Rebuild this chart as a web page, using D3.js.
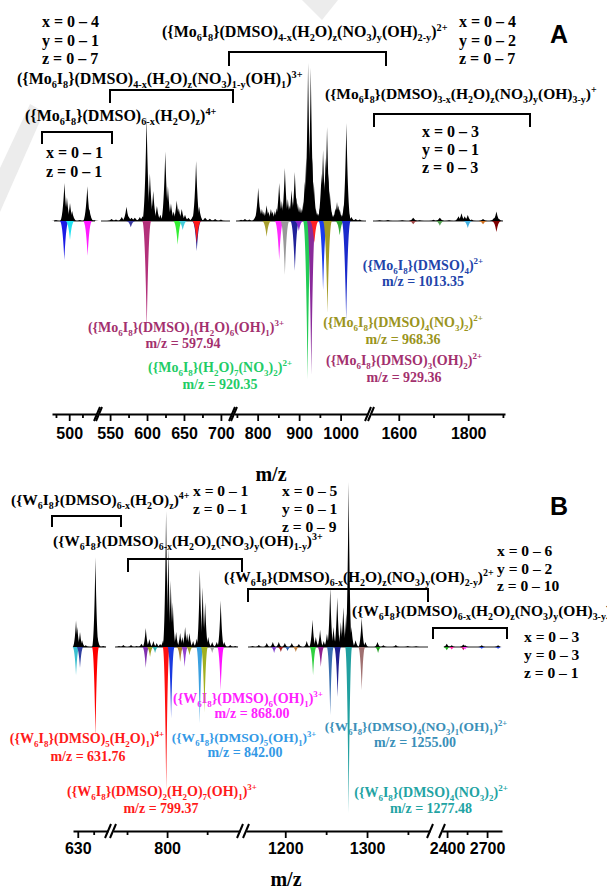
<!DOCTYPE html>
<html>
<head>
<meta charset="utf-8">
<script src="https://cdn.jsdelivr.net/npm/d3@7"></script>
<style>
  body { margin: 0; background: #fff; }
  svg { display: block; }
</style>
</head>
<body>
<div class="chartContainer"></div>
<script>
// ---------- panel A data (Mo6I8) ----------
const aSegments = [[487, 521], [535, 715], [743, 1066], [1520, 1906]];
const aMajorTicks = [500, 550, 600, 650, 700, 800, 900, 1000, 1600, 1800];
const aMinorTicks = [490, 510, 575, 625, 675, 750, 850, 950, 1700, 1900];
// measured spectrum, [m/z, relative intensity]
const aMeasured = [
  [490, 0.6], [496.4, 24], [498.3, 15], [500.6, 11.4], [502.2, 6.3], [508, 0.6], [513.7, 22], [515.2, 7.6], [519, 0.5],
  [552, 1.3], [558, 1], [565.8, 2.5], [572.2, 9], [575, 3], [579, 2], [583.5, 2], [590.3, 2.5], [594, 3],
  [599.4, 66], [603.9, 30], [608.4, 19], [613.4, 9.5], [618, 4], [624.7, 44], [628.3, 22], [632.4, 11], [636, 6],
  [640.2, 13], [643, 8], [647, 7.6], [651.4, 4], [656, 2], [662, 3], [666.4, 38], [670.5, 9], [678.6, 2],
  [685, 1.5], [692.2, 1.3], [700, 1],
  [760, 0.8], [769.4, 1.3], [780, 1], [795, 3], [801.4, 21], [805, 9], [810.3, 7.6], [815, 6], [821.6, 10],
  [826, 6], [832, 7.6], [836, 6], [841.6, 6.3], [846, 8], [851.9, 24], [858.4, 12.7], [865.6, 33.5], [872.8, 14],
  [877, 10], [881.7, 19.6], [885, 12], [889.6, 31], [893, 15], [896.9, 11.4], [902, 9], [906.5, 7.6], [910, 12],
  [913.7, 25], [917, 40], [921.6, 100], [925, 50], [928.1, 97], [931.5, 40], [935.3, 25], [940, 8], [945, 5],
  [950, 8], [954, 30], [957.7, 45], [961, 25], [964, 40], [967.3, 59.5], [970.5, 30], [973.8, 19], [978, 6],
  [984, 4], [987.5, 8], [991.3, 12], [994.5, 10], [997.8, 7.6], [1003, 4], [1008, 10], [1013.9, 62], [1018, 8],
  [1026, 2.5], [1036.3, 1.3], [1046, 1],
  [1545, 0.4], [1568.9, 0.6], [1610, 0.5], [1641.6, 2], [1660, 0.5], [1700, 0.8], [1718.3, 2], [1745, 0.5],
  [1772, 3], [1780.7, 4.9], [1790, 3], [1798.8, 3.8], [1810, 1], [1842.7, 1.2], [1875, 2], [1881.3, 6], [1888, 1.5]
];
// simulated isotope patterns (drawn downward)
const aSimMz = [496.3, 500.6, 513.9, 578, 599.6, 641.5, 648.3, 667.3, 667.3, 821.6, 851.9, 865.6, 889.6, 899.3,
  920.35, 929.36, 936.5, 957.7, 968.36, 997.8, 1013.35, 1641.6, 1718.3, 1798.8, 1842.7, 1881.3];
const aSimInt = [-24.7, -12, -22, -4, -69, -15, -5.7, -19, -14, -10, -24.7, -34, -31.6, -6.3,
  -100, -97.5, -14, -43.7, -58, -9, -62.7, -2, -3, -4.5, -2, -7];

// ---------- panel B data (W6I8) ----------
const bSegments = [[627, 649], [732.5, 891], [1152, 1377], [2362, 2812]];
const bMajorTicks = [630, 800, 1200, 1300, 2400, 2700];
const bMinorTicks = [640, 750, 850, 1250, 1350, 2550];
const bMeasured = [
  [628.9, 16], [629.7, 12], [631.4, 9], [632.7, 4], [635, 1], [641.1, 54], [642.4, 6], [646, 0.6],
  [740, 0.6], [745.4, 1.2], [755, 1.2], [762, 0.6], [768, 2], [773.4, 11.5], [777.9, 4.8], [782.9, 3.6],
  [787.1, 2.4], [791.3, 1.8], [795, 4], [798.75, 82], [801.6, 60], [804.6, 40], [807.1, 27], [811.3, 9],
  [816.3, 8.5], [819, 6], [822.5, 12], [825, 8], [827.9, 8.5], [832.5, 3.6], [837, 5], [840.9, 46.7],
  [844.4, 36], [847.5, 27], [851.3, 6], [856.3, 3], [862, 3], [866.9, 28], [871.3, 3], [878.8, 1.2], [885, 0.6],
  [1160, 0.6], [1167.7, 1.2], [1177.4, 2.4], [1184.8, 3], [1192.1, 3], [1199.5, 2.4], [1208, 2.4], [1216.6, 1.8],
  [1226.3, 3.6], [1233.3, 16.4], [1237.4, 6], [1242.6, 10.3], [1247.1, 3.6], [1251, 8], [1255, 36], [1259, 12],
  [1263.6, 30], [1268, 15], [1271, 24], [1274.5, 20], [1277.48, 99.4], [1281, 12], [1286, 4], [1293.5, 17.6],
  [1298, 3], [1312.8, 3], [1320, 1], [1335.2, 1.2], [1349.8, 0.6], [1360, 0.5],
  [2397.8, 2], [2435, 1], [2522, 1.5], [2535, 1], [2660, 1], [2782.5, 1]
];
const bSimMz = [628.9, 631.4, 641.1, 773.4, 778.75, 785, 798.9, 805, 816.3, 821.9, 827.9, 840.8, 846.6, 856.3,
  866.9, 1186.4, 1194.6, 1202.8, 1212.9, 1234, 1243.5, 1255, 1264, 1277.48, 1293.5, 1313.5,
  2397.8, 2435, 2522, 2535, 2660, 2782.5];
const bSimInt = [-17, -12.7, -54.5, -12.7, -6, -3.6, -86.7, -43, -9, -12, -5, -46, -39.4, -3.6,
  -26, -3.6, -3, -2.4, -3, -17, -12, -41, -30, -100, -26, -3.6,
  -2, -1.5, -2, -1.5, -1, -1];

// ---------- styles ----------
const aSimColors = ["#1a1ae6", "#22e0f0", "#ff1aff", "#3a3aa0", "#b3307a", "#33ee33", "#44ccdd", "#1a1a90", "#ff1a1a",
  "#a8a030", "#ff2aff", "#999999", "#22229a", "#8a2ad0", "#22cc55", "#8a2a9a", "#ff2222", "#1a3aee", "#a49a22",
  "#33aa33", "#1a2acc", "#a04848", "#55a055", "#44b0e0", "#d07020", "#800000"];
const bSimColors = ["#3cc0d0", "#3040a0", "#ff0000", "#8030b0", "#a0a020", "#30b0b0", "#ff1010", "#1a3ae0", "#b08030",
  "#9040d0", "#a0a030", "#3aa0e0", "#a0b020", "#a0a0a0", "#ff10ff", "#8040d0", "#a02020", "#3060b0", "#c08040",
  "#30d040", "#902090", "#3a70b0", "#202090", "#20a0a0", "#a07070", "#20a020",
  "#20b020", "#ff20a0", "#c02060", "#ff40ff", "#2040e0", "#2040e0"];

const serif = "'Liberation Serif', 'Times New Roman', serif";
const sans = "'Liberation Sans', Arial, sans-serif";
const width = 607, height = 889;

const svg = d3.select(".chartContainer").append("svg")
  .attr("width", width).attr("height", height)
  .style("background", "#fff");

// faint watermark strokes of the source page
svg.append("path").attr("d", "M0,212L0,168L30,104L44,112Z").attr("fill", "#ececec");
svg.append("path").attr("d", "M302,0L338,0L322,20Z").attr("fill", "#ececec");

// formula text: _x or _[..] = subscript, ^x or ^[..] = superscript
function richText(g, str, x, y, size, color, anchor) {
  const t = g.append("text")
    .attr("x", x).attr("y", y)
    .attr("font-family", serif).attr("font-weight", "bold")
    .attr("font-size", size).attr("fill", color)
    .attr("text-anchor", anchor || "start");
  const small = size * 0.64;
  const offs = { "": 0, "_": size * 0.28, "^": -size * 0.4 };
  const re = /([_^])(\[[^\]]*\]|.)|([^_^]+)/g;
  let m, cur = 0;
  while ((m = re.exec(str))) {
    const kind = m[1] || "";
    const txt = kind ? m[2].replace(/^\[|\]$/g, "") : m[3];
    const ts = t.append("tspan").attr("dy", offs[kind] - cur).text(txt);
    if (kind) ts.attr("font-size", small);
    cur = offs[kind];
  }
  return t;
}

function bracket(g, l, r, top, bottom) {
  g.append("path")
    .attr("d", `M${l},${bottom}V${top}H${r}V${bottom}`)
    .attr("fill", "none").attr("stroke", "#000").attr("stroke-width", 2);
}

function stack(g, lines, x, y0, step, size) {
  lines.forEach((s, i) => richText(g, s, x, y0 + i * step, size || 16, "#000"));
}

// one panel: broken x axis + mirrored spectrum
function drawPanel(cfg) {
  const scales = cfg.segments.map((d, i) => d3.scaleLinear().domain(d).range(cfg.ranges[i]));
  const y = d3.scaleLinear().domain([-100, 100]).range(cfg.yRange);
  const y0 = y(0);
  const segOf = v => scales.find(s => v >= s.domain()[0] && v <= s.domain()[1]);
  const hw = cfg.peakHalf;

  const spike = (mz, inten) => {
    const x = segOf(mz)(mz), yt = y(inten);
    return `M${x - hw},${y0}Q${x - hw * 0.4},${y0} ${x},${yt}Q${x + hw * 0.4},${y0} ${x + hw},${y0}Z`;
  };

  const g = svg.append("g");
  g.selectAll("line.base").data(scales).enter().append("line")
    .attr("x1", s => s.range()[0] + 2).attr("x2", s => s.range()[1] - 2)
    .attr("y1", y0).attr("y2", y0)
    .attr("stroke", "#222").attr("stroke-width", 1.2);
  g.selectAll("path.meas").data(cfg.measured).enter().append("path")
    .attr("d", d => spike(d[0], d[1])).attr("fill", "#000");
  g.selectAll("path.sim").data(cfg.simMz).enter().append("path")
    .attr("d", (d, i) => spike(d, cfg.simInt[i]))
    .attr("fill", (d, i) => cfg.simColors[i]);

  // broken axis
  const ax = svg.append("g").attr("transform", `translate(0,${cfg.axisY})`);
  scales.forEach((s, i) => {
    const [d0, d1] = s.domain();
    const inSeg = v => v >= d0 && v <= d1;
    const major = ax.append("g").call(
      d3.axisBottom(s).tickValues(cfg.majors.filter(inSeg)).tickSize(7).tickSizeOuter(0).tickFormat(d3.format("d"))
    );
    major.attr("font-family", sans).attr("font-size", 16).attr("font-weight", "bold");
    major.select(".domain").attr("stroke-width", 2);
    major.selectAll(".tick line").attr("stroke-width", 1.8);
    major.selectAll(".tick text").attr("y", cfg.labelGap);
    const minor = ax.append("g").call(
      d3.axisBottom(s).tickValues(cfg.minors.filter(inSeg)).tickSize(4).tickSizeOuter(0).tickFormat("")
    );
    minor.select(".domain").remove();
    minor.selectAll(".tick line").attr("stroke-width", 1.8);
    if (i < scales.length - 1) {
      [s.range()[1], scales[i + 1].range()[0]].forEach(x => {
        ax.append("line").attr("x1", x - 3).attr("y1", 7).attr("x2", x + 3).attr("y2", -7)
          .attr("stroke", "#000").attr("stroke-width", 2);
      });
    }
  });
  svg.append("text")
    .attr("x", cfg.titleX).attr("y", cfg.titleY)
    .attr("text-anchor", "middle")
    .attr("font-family", serif).attr("font-weight", "bold").attr("font-size", 20)
    .text("m/z");
}

// ---------- annotations (under the spectra) ----------
const ann = svg.append("g");

// panel A
stack(ann, ["x = 0 – 4", "y = 0 – 1", "z = 0 – 7"], 42, 27, 18.5);
richText(ann, "({Mo_6I_8}(DMSO)_[4-x](H_2O)_z(NO_3)_[1-y](OH)_1)^[3+]", 17, 84, 16, "#000");
bracket(ann, 110, 233, 90, 103);
richText(ann, "({Mo_6I_8}(DMSO)_[6-x](H_2O)_z)^[4+]", 25, 121, 16, "#000");
bracket(ann, 42, 112, 132, 144);
stack(ann, ["x = 0 – 1", "z = 0 – 1"], 46, 158, 19);
richText(ann, "({Mo_6I_8}(DMSO)_[4-x](H_2O)_z(NO_3)_y(OH)_[2-y])^[2+]", 162, 37, 16, "#000");
bracket(ann, 229, 386, 52, 66);
stack(ann, ["x = 0 – 4", "y = 0 – 2", "z = 0 – 7"], 459, 27, 18.5);
ann.append("text").attr("x", 550).attr("y", 43)
  .attr("font-family", sans).attr("font-weight", "bold").attr("font-size", 25).text("A");
richText(ann, "({Mo_6I_8}(DMSO)_[3-x](H_2O)_z(NO_3)_y(OH)_[3-y])^+", 325, 99, 15.5, "#000");
bracket(ann, 374, 530, 114, 127);
stack(ann, ["x = 0 – 3", "y = 0 – 1", "z = 0 – 3"], 422, 137, 18);

const mo = "#a3306e";
richText(ann, "({Mo_6I_8}(DMSO)_1(H_2O)_6(OH)_1)^[3+]", 186, 332, 14, mo, "middle");
richText(ann, "m/z = 597.94", 183, 348, 14, mo, "middle");
richText(ann, "({Mo_6I_8}(H_2O)_7(NO_3)_2)^[2+]", 220, 372, 14, "#22cc66", "middle");
richText(ann, "m/z = 920.35", 220, 389, 14, "#22cc66", "middle");
richText(ann, "({Mo_6I_8}(DMSO)_4)^[2+]", 423, 270, 14, "#2244aa", "middle");
richText(ann, "m/z = 1013.35", 423, 286, 14, "#2244aa", "middle");
richText(ann, "({Mo_6I_8}(DMSO)_4(NO_3)_2)^[2+]", 403, 327, 14, "#9a9420", "middle");
richText(ann, "m/z = 968.36", 403, 344, 14, "#9a9420", "middle");
richText(ann, "({Mo_6I_8}(DMSO)_3(OH)_2)^[2+]", 404, 365, 14, mo, "middle");
richText(ann, "m/z = 929.36", 404, 382, 14, mo, "middle");

// panel B
richText(ann, "({W_6I_8}(DMSO)_[6-x](H_2O)_z)^[4+]", 11, 505, 15.5, "#000");
bracket(ann, 52, 121, 516, 527);
stack(ann, ["x = 0 – 1", "z = 0 – 1"], 193, 496, 18, 15.5);
stack(ann, ["x = 0 – 5", "y = 0 – 1", "z = 0 – 9"], 282, 496, 18, 15.5);
richText(ann, "({W_6I_8}(DMSO)_[6-x](H_2O)_z(NO_3)_y(OH)_[1-y])^[3+]", 53, 546, 15.5, "#000");
bracket(ann, 128, 242, 559, 572);
richText(ann, "({W_6I_8}(DMSO)_[6-x](H_2O)_z(NO_3)_y(OH)_[2-y])^[2+]", 224, 582, 15.5, "#000");
bracket(ann, 248, 428, 589, 602);
ann.append("text").attr("x", 550).attr("y", 515)
  .attr("font-family", sans).attr("font-weight", "bold").attr("font-size", 25).text("B");
stack(ann, ["x = 0 – 6", "y = 0 –  2", "z = 0 – 10"], 497, 556, 17.5, 15.5);
richText(ann, "({W_6I_8}(DMSO)_[6-x](H_2O)_z(NO_3)_y(OH)_[3-y])^+", 352, 616, 15.5, "#000");
bracket(ann, 433, 507, 628, 639);
stack(ann, ["x = 0 – 3", "y = 0 – 3", "z = 0 – 1"], 524, 642, 18, 15.5);

richText(ann, "({W_6I_8}(DMSO)_5(H_2O)_1)^[4+]", 87, 743, 14, "#ff1a1a", "middle");
richText(ann, "m/z = 631.76", 88, 761, 14, "#ff1a1a", "middle");
richText(ann, "({W_6I_8}(DMSO)_2(H_2O)_7(OH)_1)^[3+]", 162, 796, 14, "#ff1a1a", "middle");
richText(ann, "m/z = 799.37", 161, 813, 14, "#ff1a1a", "middle");
richText(ann, "({W_6I_8}(DMSO)_6(OH)_1)^[3+]", 248, 703, 14, "#ff22ff", "middle");
richText(ann, "m/z = 868.00", 252, 718, 14, "#ff22ff", "middle");
richText(ann, "({W_6I_8}(DMSO)_5(OH)_1)^[3+]", 244, 742, 13.5, "#3399e6", "middle");
richText(ann, "m/z = 842.00", 245, 757, 14, "#3399e6", "middle");
richText(ann, "({W_6I_8}(DMSO)_4(NO_3)_1(OH)_1)^[2+]", 416, 731, 13.5, "#3a8fb8", "middle");
richText(ann, "m/z = 1255.00", 415, 747, 14, "#3a8fb8", "middle");
richText(ann, "({W_6I_8}(DMSO)_4(NO_3)_2)^[2+]", 431, 797, 14, "#22a3a3", "middle");
richText(ann, "m/z = 1277.48", 431, 813, 14, "#22a3a3", "middle");

// ---------- spectra ----------
drawPanel({
  segments: aSegments, ranges: [[52, 97], [99, 232], [234, 368], [371, 505]],
  yRange: [379, 63], axisY: 414, labelGap: 14, peakHalf: 4.5,
  measured: aMeasured, simMz: aSimMz, simInt: aSimInt, simColors: aSimColors,
  majors: aMajorTicks, minors: aMinorTicks, titleX: 271, titleY: 481
});
drawPanel({
  segments: bSegments, ranges: [[73, 108], [113, 240], [246, 430], [442, 502]],
  yRange: [813, 481], axisY: 831, labelGap: 12, peakHalf: 3.5,
  measured: bMeasured, simMz: bSimMz, simInt: bSimInt, simColors: bSimColors,
  majors: bMajorTicks, minors: bMinorTicks, titleX: 286, titleY: 886
});
</script>
</body>
</html>
